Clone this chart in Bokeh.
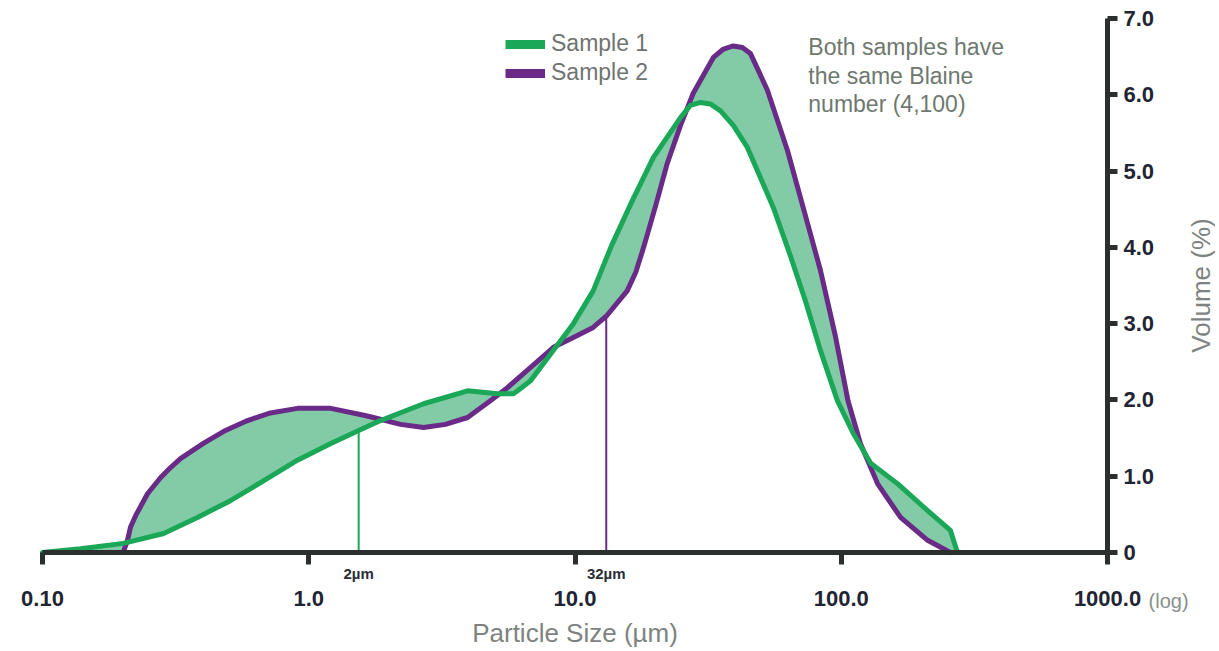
import json
from bokeh.plotting import figure
from bokeh.models import (FixedTicker, Range1d, Label, Legend, LegendItem, CustomJSTickFormatter)
from bokeh.embed import file_html
from bokeh.resources import INLINE

# ---- data ----
s1_x = [0.100, 0.139, 0.201, 0.285, 0.382, 0.508, 0.676, 0.907, 1.21, 1.54,
        1.86, 2.70, 3.95, 5.11, 5.87, 6.30, 6.80, 8.30, 9.86, 11.7, 13.7,
        16.4, 19.7, 24.9, 27.1, 29.6, 32.2, 35.2, 39.3, 44.4, 55.6, 64.4, 73.3, 83.5,
        96.7, 111, 129, 163, 211, 257, 268, 273]
s1_y = [0.00, 0.05, 0.12, 0.25, 0.46, 0.68, 0.94, 1.21, 1.43, 1.60,
        1.73, 1.95, 2.12, 2.08, 2.08, 2.16, 2.25, 2.65, 3.00, 3.43, 4.02,
        4.61, 5.18, 5.70, 5.86, 5.90, 5.88, 5.79, 5.60, 5.31, 4.52, 3.89, 3.30, 2.65,
        1.99, 1.56, 1.17, 0.90, 0.55, 0.29, 0.09, 0.00]

s2_x = [0.201, 0.2085, 0.214, 0.2235, 0.248, 0.2774, 0.302, 0.3298, 0.402, 0.4866,
        0.589, 0.718, 0.907, 1.21, 1.61, 1.75,
        2.21, 2.70, 3.26, 3.95, 4.81, 5.57, 6.63, 8.30, 9.86, 11.7,
        13.2, 15.7, 16.9, 18.1, 20.1, 22.2, 24.9, 27.8, 33.1, 36.1, 39.3, 42.5, 45.6, 48.8,
        52.8, 62.8, 73.3, 83.5, 95.0, 106, 118, 137, 167, 211, 257]
s2_y = [0.00, 0.16, 0.33, 0.48, 0.77, 0.98, 1.11, 1.23, 1.43, 1.60,
        1.73, 1.83, 1.89, 1.89, 1.80, 1.77,
        1.68, 1.64, 1.68, 1.77, 1.99, 2.16, 2.39, 2.69, 2.82, 2.95,
        3.11, 3.43, 3.67, 4.00, 4.55, 5.10, 5.60, 6.02, 6.49, 6.60, 6.64, 6.62, 6.54, 6.32,
        6.06, 5.27, 4.42, 3.70, 2.84, 1.99, 1.43, 0.90, 0.46, 0.16, 0.00]

series_names = ["Sample 1", "Sample 2"]
x_ticks = [0.1, 1, 10, 100, 1000]
x_tick_labels = ["0.10", "1.0", "10.0", "100.0", "1000.0"]
y_ticks = [0, 1, 2, 3, 4, 5, 6, 7]
y_tick_labels = ["0", "1.0", "2.0", "3.0", "4.0", "5.0", "6.0", "7.0"]
marker_x = [1.54, 13.1]
marker_top = [1.60, 3.15]
marker_labels = ["2µm", "32µm"]
note_lines = ["Both samples have", "the same Blaine", "number (4,100)"]
x_title = "Particle Size (µm)"
y_title = "Volume (%)"
x_scale_note = "(log)"

GREEN = "#1aa757"
PURPLE = "#6a2a87"
FILL = "#83caa7"
AXIS = "#2b2f2e"
FONT = "Liberation Sans"


def tick_formatter(ticks, labels):
    code = ("const T = %s; const L = %s;\n"
            "for (let i = 0; i < T.length; i++) {\n"
            "  if (Math.abs(tick - T[i]) < 1e-9 * Math.max(1, Math.abs(T[i]))) return L[i];\n"
            "}\n"
            "return '';") % (json.dumps(ticks), json.dumps(labels))
    return CustomJSTickFormatter(code=code)


# The frame spans the whole canvas so every text is drawn inside it;
# the axes are pinned at y=0 and x=1000 with fixed_location and limited by bounds.
p = figure(width=1215, height=648, x_axis_type="log", y_axis_location="right",
           x_range=Range1d(0.06955, 2544), y_range=Range1d(-1.258, 7.236),
           output_backend="svg", toolbar_location=None,
           min_border_left=0, min_border_right=0,
           min_border_top=0, min_border_bottom=0)
p.outline_line_color = None
p.grid.visible = False
p.background_fill_color = "white"
p.border_fill_color = "white"

# axes
xa = p.xaxis[0]
xa.fixed_location = 0
xa.bounds = (x_ticks[0], x_ticks[-1])
xa.ticker = FixedTicker(ticks=x_ticks, minor_ticks=[])
xa.formatter = tick_formatter(x_ticks, x_tick_labels)
xa.axis_line_width = 5
xa.axis_line_color = AXIS
xa.major_tick_line_width = 5
xa.major_tick_line_color = AXIS
xa.major_tick_in = 0
xa.major_tick_out = 12
xa.minor_tick_line_color = None
xa.major_label_standoff = 26
xa.major_label_text_font = FONT
xa.major_label_text_font_style = "bold"
xa.major_label_text_font_size = "22px"
xa.major_label_text_color = "#1f2533"

ya = p.yaxis[0]
ya.fixed_location = x_ticks[-1]
ya.bounds = (y_ticks[0], y_ticks[-1])
ya.ticker = FixedTicker(ticks=y_ticks, minor_ticks=[])
ya.formatter = tick_formatter(y_ticks, y_tick_labels)
ya.axis_line_width = 5
ya.axis_line_color = AXIS
ya.major_tick_line_width = 5
ya.major_tick_line_color = AXIS
ya.major_tick_in = 0
ya.major_tick_out = 10
ya.minor_tick_line_color = None
ya.major_label_standoff = 6
ya.major_label_text_font = FONT
ya.major_label_text_font_style = "bold"
ya.major_label_text_font_size = "22px"
ya.major_label_text_color = "#1f2533"

# marker lines
p.segment(x0=marker_x, y0=[0, 0], x1=marker_x, y1=marker_top,
          line_color=[GREEN, PURPLE], line_width=2)

# fill between curves
p.patch(s1_x + s2_x[::-1], s1_y + s2_y[::-1], fill_color=FILL, line_color=None)

r2 = p.line(s2_x, s2_y, line_color=PURPLE, line_width=5, line_join="round", line_cap="round")
r1 = p.line(s1_x, s1_y, line_color=GREEN, line_width=5, line_join="round", line_cap="round")

# legend (swatch-only renderers: a single point draws nothing on the plot)
d1 = p.line(x=s1_x[:1], y=s1_y[:1], line_color=GREEN, line_width=9, line_cap="butt")
d2 = p.line(x=s2_x[:1], y=s2_y[:1], line_color=PURPLE, line_width=9, line_cap="butt")
legend = Legend(items=[LegendItem(label=series_names[0], renderers=[d1]),
                       LegendItem(label=series_names[1], renderers=[d2])],
                location=(505, 562), orientation="vertical",
                glyph_width=40, glyph_height=26, label_height=26,
                label_standoff=6, spacing=2, padding=0, margin=0,
                border_line_color=None, background_fill_alpha=0,
                label_text_font=FONT, label_text_font_size="23px",
                label_text_color="#6f7371")
p.add_layout(legend)

# marker labels (below the axis line)
for mx, ml in zip(marker_x, marker_labels):
    p.add_layout(Label(x=mx, y=-0.27, text=ml, text_align="center", text_baseline="middle",
                       text_font=FONT, text_font_style="bold", text_font_size="15px",
                       text_color="#2a2e36"))

# note
for i, t in enumerate(note_lines):
    p.add_layout(Label(x=75.2, y=6.62 - 0.37 * i, text=t, text_align="left",
                       text_baseline="middle", text_font=FONT, text_font_size="23px",
                       text_color="#6e786f"))

# (log), axis titles
p.add_layout(Label(x=1426, y=-0.63, text=x_scale_note, text_align="left", text_baseline="middle",
                   text_font=FONT, text_font_size="20px", text_color="#8a8f8d"))
p.add_layout(Label(x=10, y=-1.06, text=x_title, text_align="center",
                   text_baseline="middle", text_font=FONT, text_font_size="26px",
                   text_color="#7e8381"))
p.add_layout(Label(x=2235, y=3.5, text=y_title, angle=1.5708, text_align="center",
                   text_baseline="middle", text_font=FONT, text_font_size="26px",
                   text_color="#7e8381"))

open("out.html", "w").write(file_html(p, INLINE))
